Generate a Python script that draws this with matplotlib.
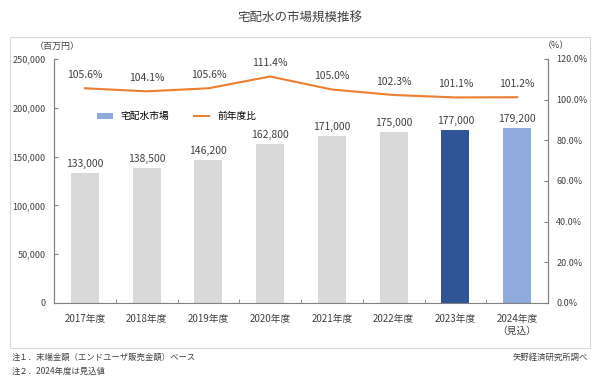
import matplotlib.pyplot as plt
from matplotlib.patches import Rectangle, Patch
from matplotlib.lines import Line2D
import numpy as np

plt.rcParams["font.family"] = ["Noto Sans CJK JP", "DejaVu Sans"]

years = ["2017年度", "2018年度", "2019年度", "2020年度", "2021年度", "2022年度", "2023年度", "2024年度\n（見込）"]
market = [133000, 138500, 146200, 162800, 171000, 175000, 177000, 179200]
yoy = [105.6, 104.1, 105.6, 111.4, 105.0, 102.3, 101.1, 101.2]
bar_colors = ["#d9d9d9"] * 6 + ["#2f5597", "#8faadc"]

fig = plt.figure(figsize=(6, 3.8), dpi=100)

# outer frame of the chart area
fig.patches.append(Rectangle((10 / 600, 1 - 348 / 380), 580 / 600, 311 / 380,
                             transform=fig.transFigure, fill=False,
                             edgecolor="#d9d9d9", linewidth=0.8))

ax = fig.add_axes([54 / 600, 1 - 303 / 380, 494 / 600, 244 / 380])
ax2 = ax.twinx()

x = np.arange(len(years))
ax.bar(x, market, width=0.45, color=bar_colors, zorder=2)
for xi, v in zip(x, market):
    ax.text(xi, v + 4000, f"{v:,}", ha="center", va="bottom", fontsize=7.5, color="#404040")

ax2.plot(x, yoy, color="#ed7d31", linewidth=1.5, zorder=3)
for xi, v in zip(x, yoy):
    ax2.text(xi, v + 4, f"{v:.1f}%", ha="center", va="bottom", fontsize=7.5, color="#404040")

ax.set_xlim(-0.5, len(years) - 0.5)
ax.set_ylim(0, 250000)
ax.set_yticks(np.arange(0, 250001, 50000))
ax.set_yticklabels([f"{v:,}" for v in range(0, 250001, 50000)])
ax2.set_ylim(0, 120)
ax2.set_yticks(np.arange(0, 121, 20))
ax2.set_yticklabels([f"{v:.1f}%" for v in range(0, 121, 20)])

ax.set_xticks(x)
ax.set_xticklabels(years)
ax.set_xticks(np.arange(-0.5, len(years)), minor=True)
ax.tick_params(axis="x", which="major", length=0, pad=8, labelsize=7, colors="#404040")
ax.tick_params(axis="x", which="minor", length=3, direction="in", color="#808080")
ax.tick_params(axis="y", labelsize=6.5, colors="#404040", length=3, direction="in", color="#808080", pad=6)
ax2.tick_params(axis="y", labelsize=6.5, colors="#404040", length=3, direction="in", color="#808080", pad=6)

for a in (ax, ax2):
    a.spines["top"].set_visible(False)
    for side in ("left", "right", "bottom"):
        a.spines[side].set_color("#808080")
        a.spines[side].set_linewidth(0.8)
ax2.spines["bottom"].set_visible(False)

handles = [Patch(facecolor="#8faadc"), Line2D([0], [0], color="#ed7d31", linewidth=1.5)]
ax.legend(handles, ["宅配水市場", "前年度比"], ncol=2, frameon=False, fontsize=7,
          loc="center left", bbox_to_anchor=(0.07, 0.765), columnspacing=2.5,
          handlelength=1.6, handleheight=0.6)

fig.text(0.5, 1 - 18 / 380, "宅配水の市場規模推移", ha="center", va="center", fontsize=9, color="#404040")
fig.text(35 / 600, 1 - 46 / 380, "（百万円）", ha="left", va="center", fontsize=6.5, color="#404040")
fig.text(556 / 600, 1 - 46 / 380, "（%）", ha="center", va="center", fontsize=6.5, color="#404040")
fig.text(12 / 600, 1 - 357 / 380, "注１．末端金額（エンドユーザ販売金額）ベース", ha="left", va="center", fontsize=6, color="#404040")
fig.text(12 / 600, 1 - 371 / 380, "注２．2024年度は見込値", ha="left", va="center", fontsize=6, color="#404040")
fig.text(588 / 600, 1 - 357 / 380, "矢野経済研究所調べ", ha="right", va="center", fontsize=6, color="#404040")

fig.savefig("out.png", dpi=100)
